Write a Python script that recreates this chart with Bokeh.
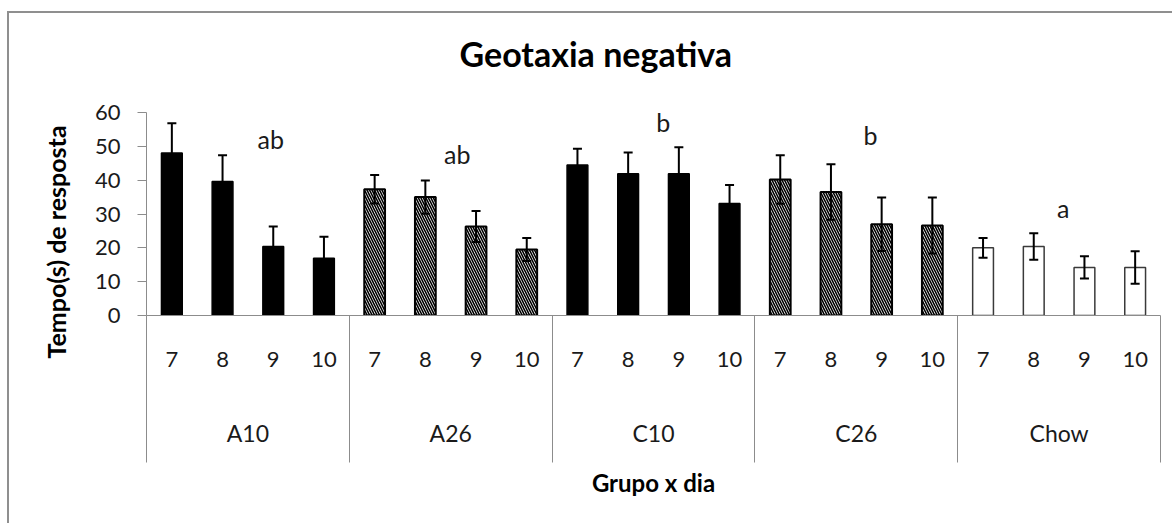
from bokeh.plotting import figure
from bokeh.models import Range1d, LinearAxis, FixedTicker, ColumnDataSource, Whisker, TeeHead, Title
from bokeh.core.properties import value
from bokeh.embed import file_html
from bokeh.resources import INLINE

# ---------------- data ----------------
groups = ["A10", "A26", "C10", "C26", "Chow"]
days = ["7", "8", "9", "10"]
mean_A10 = [48.0, 39.6, 20.4, 16.9]
sd_A10 = [8.8, 7.8, 5.9, 6.4]
mean_A26 = [37.3, 35.0, 26.3, 19.5]
sd_A26 = [4.2, 4.9, 4.6, 3.4]
mean_C10 = [44.5, 41.9, 41.9, 33.1]
sd_C10 = [4.8, 6.3, 7.8, 5.5]
mean_C26 = [40.2, 36.5, 27.0, 26.6]
sd_C26 = [7.2, 8.2, 7.9, 8.3]
mean_Chow = [20.0, 20.4, 14.2, 14.2]
sd_Chow = [2.9, 3.9, 3.3, 4.8]
y_ticks = [0, 10, 20, 30, 40, 50, 60]
sig_letters = ["ab", "ab", "b", "b", "a"]
sig_x = [2.45, 6.13, 10.19, 14.28, 18.08]
sig_y = [49.2, 44.7, 54.1, 50.4, 28.8]
group_style = ["solid", "hatch", "solid", "hatch", "open"]

means = [mean_A10, mean_A26, mean_C10, mean_C26, mean_Chow]
sds = [sd_A10, sd_A26, sd_C10, sd_C26, sd_Chow]

FONT = "Lato"
GRAY = "#8c8c8c"
TXT = "#1a1a1a"
n_days = len(days)
n_cat = len(groups) * n_days

p = figure(width=1165, height=512, x_range=Range1d(0, n_cat), y_range=Range1d(0, 60),
           output_backend="svg", toolbar_location=None,
           x_axis_location=None, y_axis_location=None,
           min_border_left=137, min_border_right=14, min_border_top=99, min_border_bottom=210)
p.outline_line_color = None
p.grid.visible = False
p.background_fill_color = "white"
p.border_fill_color = "white"
p.styles = {"margin-left": "7px", "margin-top": "11px",
            "border-left": "2px solid #8f8f8f", "border-top": "2px solid #8f8f8f"}

# ---------------- bars ----------------
cols = {s: dict(x=[], top=[]) for s in ("solid", "hatch", "open")}
wx, wlo, whi = [], [], []
for gi, g in enumerate(groups):
    for di in range(n_days):
        x = gi * n_days + di + 0.5
        m = means[gi][di]
        s = sds[gi][di]
        cols[group_style[gi]]["x"].append(x)
        cols[group_style[gi]]["top"].append(m)
        wx.append(x)
        wlo.append(m - s)
        whi.append(m + s)

BW = 0.41
p.vbar(x="x", top="top", bottom=0, width=BW, source=ColumnDataSource(cols["solid"]),
       fill_color="black", line_color="black", line_width=1.5)
p.vbar(x="x", top="top", bottom=0, width=BW, source=ColumnDataSource(cols["hatch"]),
       fill_color="white", line_color="black", line_width=2,
       hatch_pattern="\\", hatch_color="black", hatch_scale=5, hatch_weight=1.6)
p.vbar(x="x", top="top", bottom=0, width=BW, source=ColumnDataSource(cols["open"]),
       fill_color="white", line_color="#3a3a3a", line_width=1.5)

wsrc = ColumnDataSource(dict(x=wx, lower=wlo, upper=whi))
wh = Whisker(source=wsrc, base="x", lower="lower", upper="upper", dimension="height",
             line_color="black", line_width=2, level="overlay",
             upper_head=TeeHead(size=9, line_color="black", line_width=2),
             lower_head=TeeHead(size=9, line_color="black", line_width=2))
p.add_layout(wh)

p.text(x=sig_x, y=sig_y, text=sig_letters, text_font=value(FONT), text_font_size="25px",
       text_align="center", text_baseline="alphabetic", text_color=TXT, y_offset=-10)

# ---------------- axes ----------------
yax = LinearAxis(ticker=FixedTicker(ticks=y_ticks), major_tick_out=9, major_tick_in=0,
                 minor_tick_out=0, minor_tick_in=0,
                 axis_line_color=GRAY, major_tick_line_color=GRAY, axis_line_width=1,
                 major_label_standoff=17, major_label_text_font=FONT,
                 major_label_text_font_size="22px", major_label_text_color=TXT)
p.add_layout(yax, "left")

centers = [i + 0.5 for i in range(n_cat)]
bounds = [g * n_days for g in range(len(groups) + 1)]
xax1 = LinearAxis(ticker=FixedTicker(ticks=centers, minor_ticks=bounds),
                  major_label_overrides={c: days[i % n_days] for i, c in enumerate(centers)},
                  major_tick_out=0, major_tick_in=0, major_tick_line_color=None,
                  minor_tick_out=147, minor_tick_in=0, minor_tick_line_color=GRAY,
                  axis_line_color=GRAY,
                  major_label_standoff=-111, major_label_text_font=FONT,
                  major_label_text_font_size="22px", major_label_text_color=TXT)
p.add_layout(xax1, "below")

gcenters = [g * n_days + n_days / 2 for g in range(len(groups))]
xax2 = LinearAxis(ticker=FixedTicker(ticks=gcenters),
                  major_label_overrides={c: groups[i] for i, c in enumerate(gcenters)},
                  major_tick_out=0, major_tick_in=0, major_tick_line_color=None,
                  minor_tick_out=0, minor_tick_in=0,
                  axis_line_color=None,
                  major_label_standoff=49, major_label_text_font=FONT,
                  major_label_text_font_size="23px", major_label_text_color=TXT,
                  axis_label="Grupo x dia", axis_label_standoff=18,
                  axis_label_text_font=FONT, axis_label_text_font_size="24px",
                  axis_label_text_font_style="bold", axis_label_text_color="black")
p.add_layout(xax2, "below")

# spacer between frame and title (nearest to frame), title goes outermost
p.add_layout(Title(text=" ", text_font_size="1px", standoff=35), "above")

p.title.text = "Geotaxia negativa"
p.title.align = "left"
p.title.offset = 313
p.title.standoff = 2
p.title.text_font = FONT
p.title.text_font_size = "34px"
p.title.text_font_style = "bold"
p.title.text_color = "black"

p.add_layout(Title(text="Tempo(s) de resposta", align="left", offset=-43, standoff=41,
                   text_font=FONT, text_font_size="25px", text_font_style="bold",
                   text_color="black"), "left")

open("out.html", "w").write(file_html(p, INLINE))
